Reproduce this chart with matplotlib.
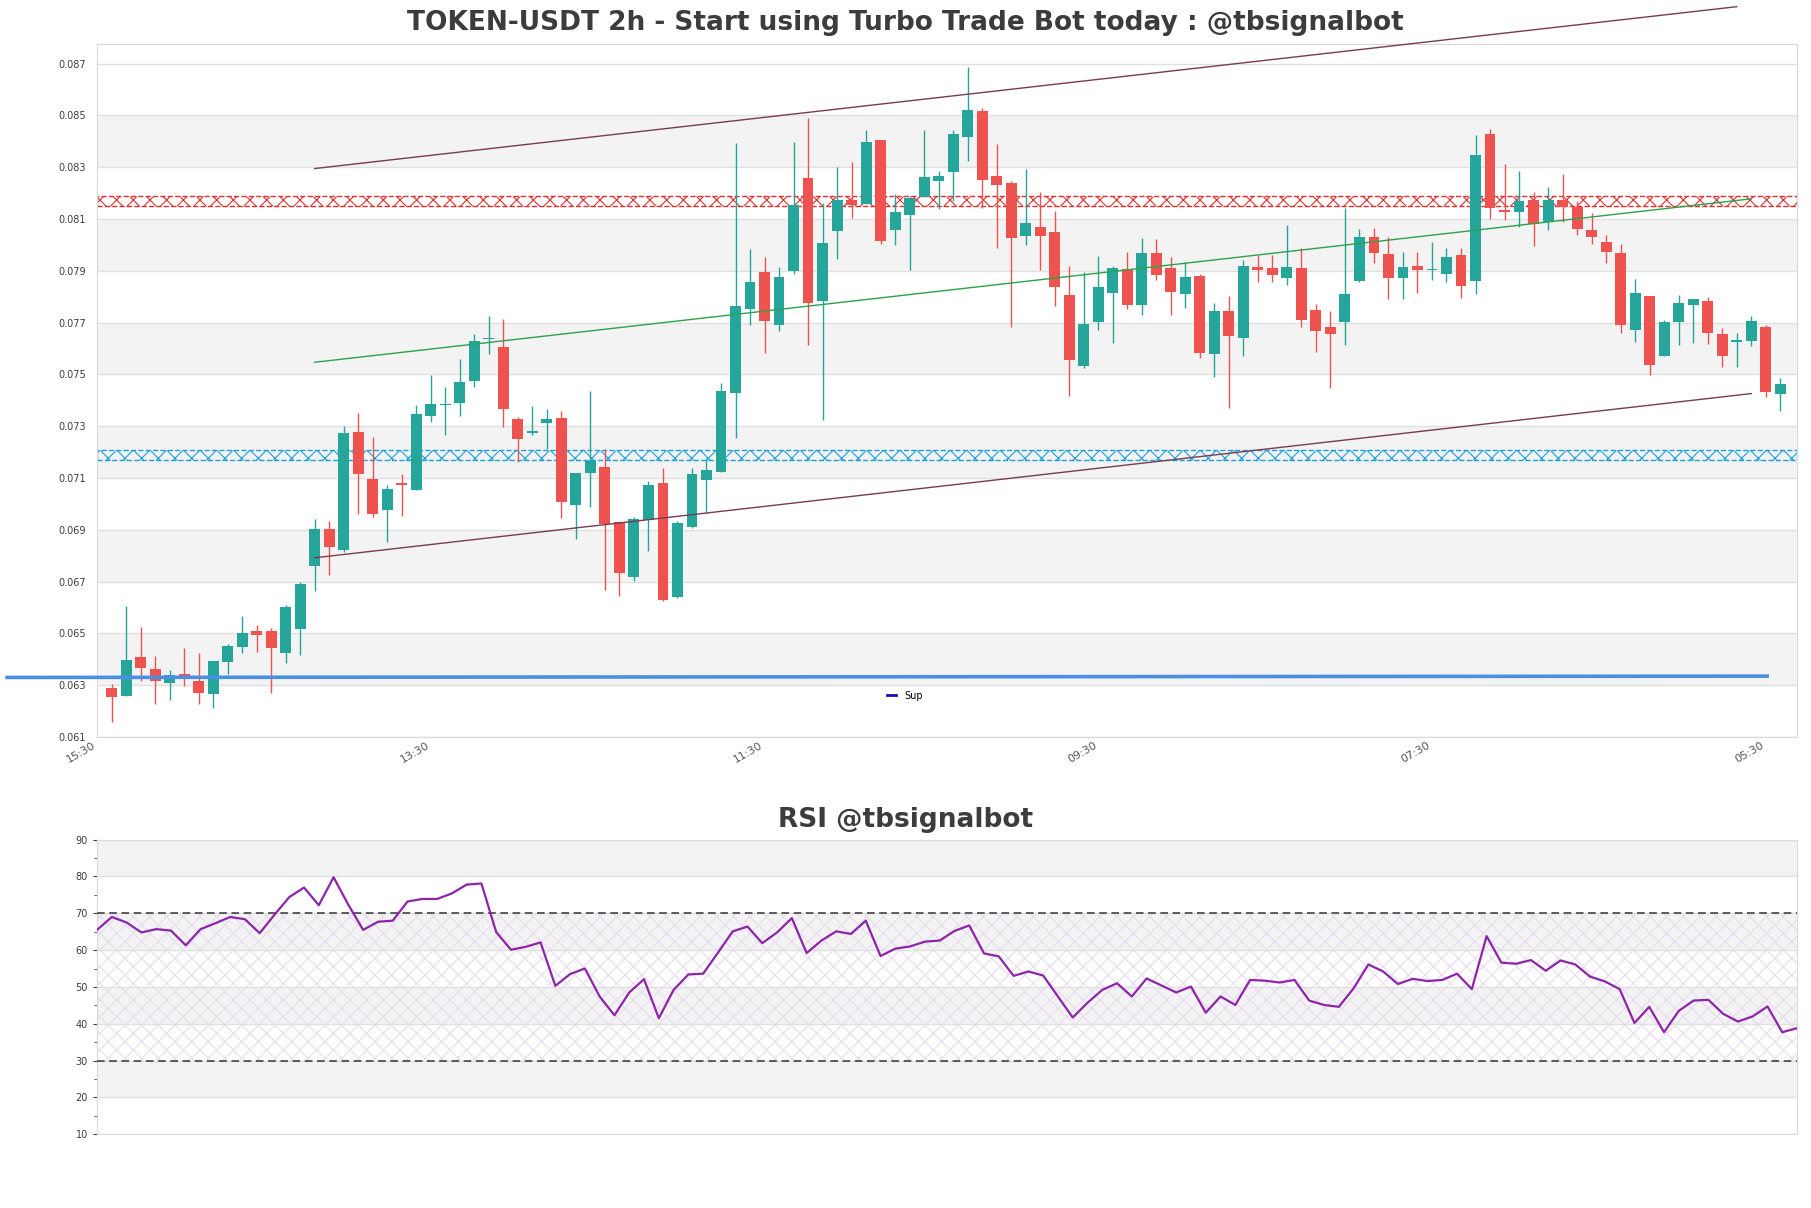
import matplotlib
matplotlib.use("Agg")
import matplotlib.pyplot as plt
import numpy as np
from matplotlib.lines import Line2D
from matplotlib.patches import Rectangle

# candle data (index 1..116)
opens = [0.06289, 0.06260, 0.06409, 0.06362, 0.06307, 0.06345, 0.06315, 0.06265, 0.06391, 0.06449,
         0.06510, 0.06508, 0.06426, 0.06516, 0.06761, 0.06905, 0.06823, 0.07276, 0.07098, 0.06978,
         0.07079, 0.07054, 0.07338, 0.07382, 0.07391, 0.07476, 0.07637, 0.07605, 0.07329, 0.07274,
         0.07314, 0.07332, 0.06995, 0.07119, 0.07143, 0.06930, 0.06717, 0.06939, 0.07080, 0.06641,
         0.06912, 0.07093, 0.07125, 0.07430, 0.07754, 0.07896, 0.07692, 0.07901, 0.08258, 0.07784,
         0.08052, 0.08174, 0.08158, 0.08405, 0.08056, 0.08114, 0.08185, 0.08245, 0.08283, 0.08416,
         0.08517, 0.08267, 0.08241, 0.08033, 0.08070, 0.08050, 0.07807, 0.07534, 0.07701, 0.07813,
         0.07907, 0.07767, 0.07969, 0.07910, 0.07809, 0.07880, 0.07579, 0.07745, 0.07639, 0.07916,
         0.07910, 0.07871, 0.07910, 0.07749, 0.07683, 0.07701, 0.07861, 0.08029, 0.07965, 0.07871,
         0.07919, 0.07903, 0.07889, 0.07962, 0.07859, 0.08428, 0.08135, 0.08128, 0.08173, 0.08089,
         0.08173, 0.08148, 0.08056, 0.08011, 0.07967, 0.07673, 0.07802, 0.07570, 0.07701, 0.07767,
         0.07784, 0.07657, 0.07625, 0.07629, 0.07684, 0.07426]
highs = [0.06304, 0.06605, 0.06526, 0.06412, 0.06359, 0.06444, 0.06423, 0.06394, 0.06460, 0.06568,
         0.06533, 0.06520, 0.06611, 0.06697, 0.06942, 0.06933, 0.07299, 0.07352, 0.07258, 0.07072,
         0.07116, 0.07382, 0.07497, 0.07453, 0.07559, 0.07657, 0.07726, 0.07715, 0.07334, 0.07378,
         0.07368, 0.07359, 0.07121, 0.07435, 0.07213, 0.06935, 0.06948, 0.07089, 0.07139, 0.06933,
         0.07137, 0.07178, 0.07467, 0.08393, 0.07985, 0.07953, 0.07916, 0.08398, 0.08490, 0.08162,
         0.08300, 0.08322, 0.08442, 0.08405, 0.08197, 0.08189, 0.08442, 0.08286, 0.08442, 0.08689,
         0.08529, 0.08391, 0.08247, 0.08295, 0.08206, 0.08132, 0.07919, 0.07896, 0.07958, 0.07919,
         0.07971, 0.08027, 0.08024, 0.07952, 0.07933, 0.07887, 0.07777, 0.07802, 0.07940, 0.07963,
         0.07963, 0.08077, 0.07989, 0.07772, 0.07745, 0.08144, 0.08061, 0.08065, 0.08029, 0.07972,
         0.07972, 0.08011, 0.07990, 0.07990, 0.08426, 0.08446, 0.08313, 0.08286, 0.08205, 0.08224,
         0.08273, 0.08168, 0.08122, 0.08040, 0.08003, 0.07870, 0.07802, 0.07710, 0.07807, 0.07793,
         0.07798, 0.07678, 0.07660, 0.07727, 0.07689, 0.07488]
lows = [0.06159, 0.06258, 0.06318, 0.06226, 0.06244, 0.06297, 0.06226, 0.06212, 0.06345, 0.06426,
        0.06430, 0.06268, 0.06384, 0.06418, 0.06664, 0.06726, 0.06813, 0.06963, 0.06948, 0.06854,
        0.06953, 0.07054, 0.07316, 0.07267, 0.07338, 0.07453, 0.07580, 0.07297, 0.07160, 0.07267,
        0.07213, 0.06946, 0.06864, 0.06988, 0.06669, 0.06643, 0.06703, 0.06820, 0.06625, 0.06638,
        0.06908, 0.06965, 0.07125, 0.07254, 0.07692, 0.07584, 0.07667, 0.07887, 0.07612, 0.07323,
        0.07944, 0.08105, 0.08158, 0.08003, 0.08000, 0.07905, 0.08185, 0.08139, 0.08171, 0.08325,
        0.08144, 0.07988, 0.07685, 0.08000, 0.07905, 0.07763, 0.07417, 0.07524, 0.07671, 0.07621,
        0.07751, 0.07731, 0.07866, 0.07731, 0.07758, 0.07563, 0.07492, 0.07370, 0.07572, 0.07856,
        0.07856, 0.07845, 0.07685, 0.07585, 0.07449, 0.07612, 0.07856, 0.07930, 0.07790, 0.07790,
        0.07813, 0.07866, 0.07856, 0.07795, 0.07811, 0.08100, 0.08097, 0.08069, 0.07994, 0.08058,
        0.08087, 0.08040, 0.08003, 0.07930, 0.07660, 0.07627, 0.07497, 0.07570, 0.07612, 0.07621,
        0.07618, 0.07527, 0.07527, 0.07611, 0.07414, 0.07359]
closes = [0.06253, 0.06398, 0.06368, 0.06315, 0.06338, 0.06330, 0.06268, 0.06394, 0.06451, 0.06502,
          0.06492, 0.06442, 0.06602, 0.06692, 0.06905, 0.06832, 0.07272, 0.07116, 0.06962, 0.07057,
          0.07072, 0.07346, 0.07387, 0.07387, 0.07471, 0.07628, 0.07642, 0.07368, 0.07249, 0.07281,
          0.07329, 0.07006, 0.07121, 0.07164, 0.06924, 0.06735, 0.06942, 0.07072, 0.06628, 0.06926,
          0.07116, 0.07130, 0.07435, 0.07763, 0.07857, 0.07705, 0.07875, 0.08153, 0.07777, 0.08008,
          0.08174, 0.08153, 0.08398, 0.08017, 0.08127, 0.08180, 0.08263, 0.08267, 0.08428, 0.08522,
          0.08251, 0.08230, 0.08026, 0.08084, 0.08033, 0.07839, 0.07556, 0.07696, 0.07838, 0.07910,
          0.07767, 0.07969, 0.07885, 0.07820, 0.07877, 0.07584, 0.07745, 0.07650, 0.07919, 0.07905,
          0.07885, 0.07916, 0.07712, 0.07666, 0.07657, 0.07811, 0.08029, 0.07967, 0.07871, 0.07916,
          0.07902, 0.07907, 0.07953, 0.07843, 0.08348, 0.08141, 0.08128, 0.08168, 0.08080, 0.08175,
          0.08148, 0.08061, 0.08029, 0.07974, 0.07689, 0.07815, 0.07538, 0.07703, 0.07777, 0.07790,
          0.07660, 0.07573, 0.07634, 0.07706, 0.07432, 0.07462]

rsi = [65.5, 69.0, 67.5, 64.8, 65.7, 65.3, 61.3, 65.7, 67.3, 69.0,
       68.4, 64.6, 69.6, 74.4, 77.0, 72.2, 79.8, 72.3, 65.5, 67.7,
       68.0, 73.2, 73.9, 73.9, 75.4, 77.8, 78.1, 64.9, 60.1, 60.9,
       62.1, 50.3, 53.5, 55.0, 47.4, 42.3, 48.5, 52.1, 41.5, 49.2,
       53.4, 53.6, 59.3, 65.1, 66.4, 61.9, 64.8, 68.7, 59.2, 62.6,
       65.1, 64.4, 68.0, 58.4, 60.4, 61.0, 62.3, 62.6, 65.2, 66.7,
       59.1, 58.3, 53.0, 54.2, 53.1, 47.4, 41.7, 45.7, 49.2, 51.0,
       47.4, 52.3, 50.4, 48.5, 50.1, 43.0, 47.4, 45.1, 51.9, 51.7,
       51.2, 51.9, 46.3, 45.1, 44.6, 49.6, 56.1, 54.2, 50.8, 52.2,
       51.6, 51.9, 53.6, 49.4, 63.8, 56.6, 56.3, 57.3, 54.4, 57.2,
       56.1, 52.8, 51.5, 49.4, 40.2, 44.6, 37.7, 43.5, 46.3, 46.5,
       42.7, 40.6, 42.0, 44.7, 37.7, 38.8]

tick_pos = [0, 23, 46, 69, 92, 115]
tick_labels = ["15:30", "13:30", "11:30", "09:30", "07:30", "05:30"]

resistance = (0.0815, 0.0819)
support = (0.0717, 0.0721)
sup_level = (0.0633, 0.06335)
channel_x = (15, 114)
upper_x = (15, 113)
upper_y = (0.08295, 0.0892)
mid_y = (0.07547, 0.08178)
lower_y = (0.06792, 0.07426)

GREEN = "#26a69a"
RED = "#ef5350"
TXT = "#3c3c3c"

plt.rcParams["hatch.linewidth"] = 0.8

fig = plt.figure(figsize=(18.11, 12.08), dpi=100)
ax = fig.add_axes([0.0536, 0.3899, 0.9387, 0.5737])
ax2 = fig.add_axes([0.0536, 0.0611, 0.9387, 0.2438])

# price panel
x = np.arange(1, len(opens) + 1)
o = np.array(opens); h = np.array(highs); l = np.array(lows); c = np.array(closes)
up = c >= o
cols = np.where(up, GREEN, RED)
ax.vlines(x, l, h, colors=cols, linewidth=1.0, zorder=3)
ax.bar(x, np.maximum(np.abs(c - o), 0.00004), bottom=np.minimum(o, c), width=0.75,
       color=cols, linewidth=0, zorder=4)

yt = np.arange(0.061, 0.0875, 0.002)
for k in range(len(yt) - 1):
    if k % 2 == 1:
        ax.axhspan(yt[k], yt[k + 1], color="#f3f3f3", zorder=0, lw=0)
ax.set_yticks(yt)
ax.set_yticklabels([f"{v:.3f}" for v in yt])
ax.grid(axis="y", color="#e0e0e0", linewidth=1, zorder=1)
ax.set_ylim(0.061, 0.08776)
ax.set_xlim(0, 117.16)

ax.add_patch(Rectangle((0, resistance[0]), 117.16, resistance[1] - resistance[0], fill=False,
                       hatch="xx", edgecolor="#e03030", linestyle="--", linewidth=1, zorder=2))
ax.add_patch(Rectangle((0, support[0]), 117.16, support[1] - support[0], fill=False,
                       hatch="xx", edgecolor="#1ca0dc", linestyle="--", linewidth=1, zorder=2))

ax.plot(upper_x, upper_y, color="#7b3b4e", linewidth=1, zorder=5, clip_on=False)
ax.plot(channel_x, lower_y, color="#7b3b4e", linewidth=1, zorder=5)
ax.plot(channel_x, mid_y, color="#2ca24a", linewidth=1, zorder=5)
ax.plot((-6.2, 115.1), sup_level, color="#4a90e2", linewidth=2.6, zorder=6, clip_on=False)

ax.legend(handles=[Line2D([], [], color="#1010b0", linewidth=2)], labels=["Sup"],
          loc="lower center", frameon=False, fontsize=7, handlelength=1,
          bbox_to_anchor=(0.475, 0.04))

ax.set_xticks(tick_pos)
ax.set_xticklabels(tick_labels, rotation=30, ha="right", fontsize=8, color="#555555")
ax.tick_params(axis="y", labelsize=7, colors=TXT, length=0, pad=8)
ax.tick_params(axis="x", length=0, pad=2)
for s in ax.spines.values():
    s.set_color("#d9d9d9")
fig.text(0.5, 0.981, "TOKEN-USDT 2h - Start using Turbo Trade Bot today : @tbsignalbot",
         fontsize=19, fontweight="bold", color=TXT, ha="center", va="center")

# RSI panel
rx = np.arange(len(rsi))
for lo, hi in [(20, 30), (40, 50), (60, 70), (80, 90)]:
    ax2.axhspan(lo, hi, color="#f3f3f3", zorder=0, lw=0)
ax2.fill_between([0, len(rsi) - 1], 30, 70, facecolor="none", hatch="xx",
                 edgecolor="#e8dcef", linewidth=0, zorder=1)
ax2.plot(rx, rsi, color="#8e24aa", linewidth=1.6, zorder=4)
ax2.axhline(70, color="#333333", linestyle=(0, (5, 3)), linewidth=1.1, zorder=3)
ax2.axhline(30, color="#333333", linestyle=(0, (5, 3)), linewidth=1.1, zorder=3)
ax2.set_ylim(10, 90)
ax2.set_xlim(0, len(rsi) - 1)
ax2.set_yticks(np.arange(10, 91, 10))
ax2.set_yticks(np.arange(15, 90, 10), minor=True)
ax2.set_xticks([])
ax2.grid(axis="y", which="major", color="#e0e0e0", linewidth=1, zorder=1)
ax2.tick_params(axis="y", which="both", labelsize=7, colors=TXT, length=3)
ax2.tick_params(axis="y", which="minor", length=2)
for s in ax2.spines.values():
    s.set_color("#d9d9d9")
fig.text(0.5, 0.3215, "RSI @tbsignalbot", fontsize=19, fontweight="bold", color=TXT,
         ha="center", va="center")

fig.savefig("out.png", dpi=100)
